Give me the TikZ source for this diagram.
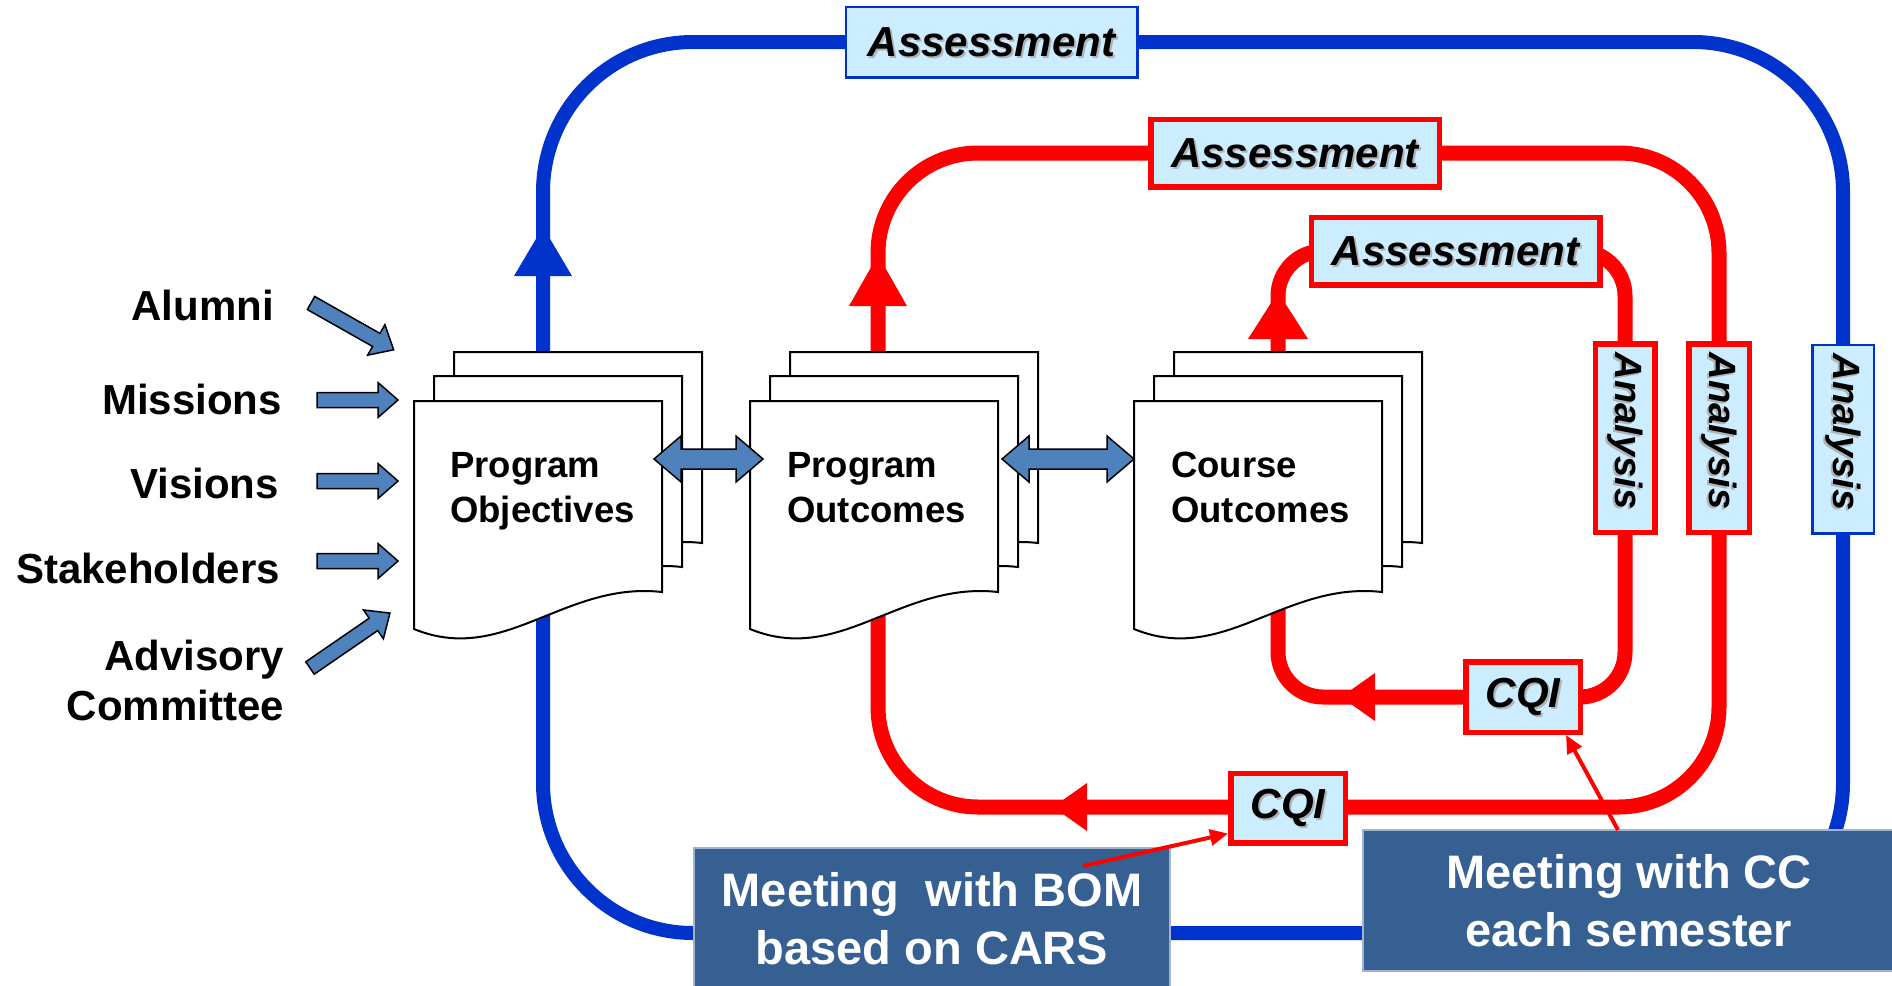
\documentclass[tikz,border=0pt]{standalone}
\usepackage{fontspec}
\setmainfont{Liberation Sans}
\usetikzlibrary{arrows.meta,calc}
\definecolor{loopblue}{RGB}{0,51,204}
\definecolor{loopred}{RGB}{255,0,0}
\definecolor{boxfill}{RGB}{204,236,255}
\definecolor{arrowfill}{RGB}{79,129,189}
\definecolor{meetfill}{RGB}{55,96,146}
\definecolor{meetedge}{RGB}{160,180,205}
\definecolor{shadowgray}{RGB}{175,180,185}
\newcommand{\shd}[1]{\leavevmode\rlap{\smash{\textcolor{shadowgray}{\kern2pt\raisebox{-2pt}{#1}}}}#1}
\newcommand{\docpage}[2]{\draw[docline] (#1,#2) -- ({#1+248},#2) -- ({#1+248},{#2+191}) .. controls ({#1+150},{#2+180}) and ({#1+90},{#2+265}) .. (#1,{#2+228}) -- cycle;}
\newcommand{\docstack}[2]{\docpage{#1+40}{#2-49}\docpage{#1+20}{#2-25}\docpage{#1}{#2}}
\newcommand{\dblarrow}[3]{\draw[blockarrow] (#1,#3) -- ({#1+27},{#3-23}) -- ({#1+27},{#3-10}) -- ({#2-27},{#3-10}) -- ({#2-27},{#3-23}) -- (#2,#3) -- ({#2-27},{#3+23}) -- ({#2-27},{#3+10}) -- ({#1+27},{#3+10}) -- ({#1+27},{#3+23}) -- cycle;}
\newcommand{\inarrow}[4]{\begin{scope}[shift={(#1,#2)},rotate=#3]\draw[blockarrow] (0,-7.5) -- ({#4-20},-7.5) -- ({#4-20},-17.5) -- (#4,0) -- ({#4-20},17.5) -- ({#4-20},7.5) -- (0,7.5) -- cycle;\end{scope}}
\begin{document}
\begin{tikzpicture}[x=1pt,y=-1pt,
  docline/.style={draw=black,fill=white,line width=2pt,line join=miter},
  blockarrow/.style={draw=black,fill=arrowfill,line width=1.5pt,line join=miter},
  outerloop/.style={draw=loopblue,line width=14pt,rounded corners=150pt},
  midloop/.style={draw=loopred,line width=15pt,rounded corners=100pt},
  innerloop/.style={draw=loopred,line width=15pt,rounded corners=45pt},
  sidetext/.style={font=\fontsize{42}{50}\selectfont\bfseries,inner sep=0pt},
  doctext/.style={font=\fontsize{36.5}{45}\selectfont\bfseries,inner sep=0pt,align=left,anchor=west},
  lbox/.style={fill=boxfill,inner sep=0pt},
  bluebox/.style={lbox,draw=loopblue,line width=2.5pt},
  redbox/.style={lbox,draw=loopred,line width=5.5pt},
  asmfont/.style={font=\fontsize{42}{50}\selectfont\bfseries\itshape},
  anafont/.style={font=\fontsize{38}{45}\selectfont\bfseries\itshape},
  meetbox/.style={fill=meetfill,draw=meetedge,line width=1.5pt,text=white,align=center,inner sep=0pt,font=\fontsize{47}{58}\selectfont\bfseries},
  note/.style={draw=loopred,line width=4pt,-{Triangle[length=18pt,width=16pt]}}
]
\useasboundingbox (0,0) rectangle (1892,985);
\fill[white] (0,0) rectangle (1892,985);

% loops
\draw[outerloop] (543,42) rectangle (1843,933);
\draw[midloop] (878,153) rectangle (1719,807);
\draw[innerloop] (1278,251) rectangle (1625,697);

% loop arrowheads
\fill[loopblue] (543,227) -- (572,276) -- (514,276) -- cycle;
\fill[loopred] (878,255) -- (907,306) -- (849,306) -- cycle;
\fill[loopred] (1278,292) -- (1308,339) -- (1248,339) -- cycle;
\fill[loopred] (1053,807) -- (1087,783) -- (1087,831) -- cycle;
\fill[loopred] (1341,697) -- (1375,673) -- (1375,721) -- cycle;

% document stacks
\docstack{414}{401}
\docstack{750}{401}
\docstack{1134}{401}
\node[doctext] (po) at (450,491.3) {Program\\Objectives};
\node[doctext] (pout) at (787,487.7) {Program\\Outcomes};
\node[doctext] (co) at (1171,487.5) {Course\\Outcomes};

% double arrows between documents
\dblarrow{654}{763}{459}
\dblarrow{1002}{1134}{459}

% inputs on the left
\node[sidetext,anchor=base east] (alumni) at (274,320) {Alumni};
\node[sidetext,anchor=base east] (missions) at (282,414) {Missions};
\node[sidetext,anchor=base east] (visions) at (279,498) {Visions};
\node[sidetext,anchor=base east] (stake) at (280,583) {Stakeholders};
\node[sidetext,anchor=east,align=right] (advisory) at (284,680.2) {Advisory\\Committee};
\inarrow{311}{303}{-29.5}{95}
\inarrow{317}{400}{0}{81}
\inarrow{317}{481}{0}{81}
\inarrow{317}{561}{0}{81}
\inarrow{310}{668}{34.5}{97}

% assessment boxes
\node[bluebox,asmfont,minimum width=291.5pt,minimum height=70.5pt] (asm1) at (991.5,42) {\shd{Assessment}};
\node[redbox,asmfont,minimum width=288.5pt,minimum height=67.5pt] (asm2) at (1295,153) {\shd{Assessment}};
\node[redbox,asmfont,minimum width=288.5pt,minimum height=67.5pt] (asm3) at (1455.5,251) {\shd{Assessment}};

% analysis boxes
\node[redbox,anafont,rotate=-90,minimum width=188.5pt,minimum height=59.5pt] (ana3) at (1625,438) {\shd{Analysis}\kern14pt};
\node[redbox,anafont,rotate=-90,minimum width=188.5pt,minimum height=60.5pt] (ana2) at (1719,438) {\shd{Analysis}\kern14pt};
\node[bluebox,anafont,rotate=-90,minimum width=188.5pt,minimum height=61.5pt] (ana1) at (1843,439) {\shd{Analysis}\kern14pt};

% CQI boxes
\node[redbox,asmfont,minimum width=114.5pt,minimum height=69.5pt] (cqi1) at (1288,808) {\shd{CQI}};
\node[redbox,asmfont,minimum width=114.5pt,minimum height=70.5pt] (cqi2) at (1523,697) {\shd{CQI}};

% meeting boxes
\node[meetbox,minimum width=476pt,minimum height=142pt] (bom) at (932,919) {Meeting\ \ with BOM\\based on CARS};
\node[meetbox,minimum width=532pt,minimum height=141pt] (cc) at (1629,900.5) {Meeting with CC\\each semester};

% notes
\coordinate (bomtail) at (1083,866);
\coordinate (cctail) at (1618,830);
\draw[note] (bomtail) -- ([yshift=12pt]cqi1.south west);
\draw[note] (cctail) -- ([xshift=-17pt]cqi2.south east);
\end{tikzpicture}
\end{document}
